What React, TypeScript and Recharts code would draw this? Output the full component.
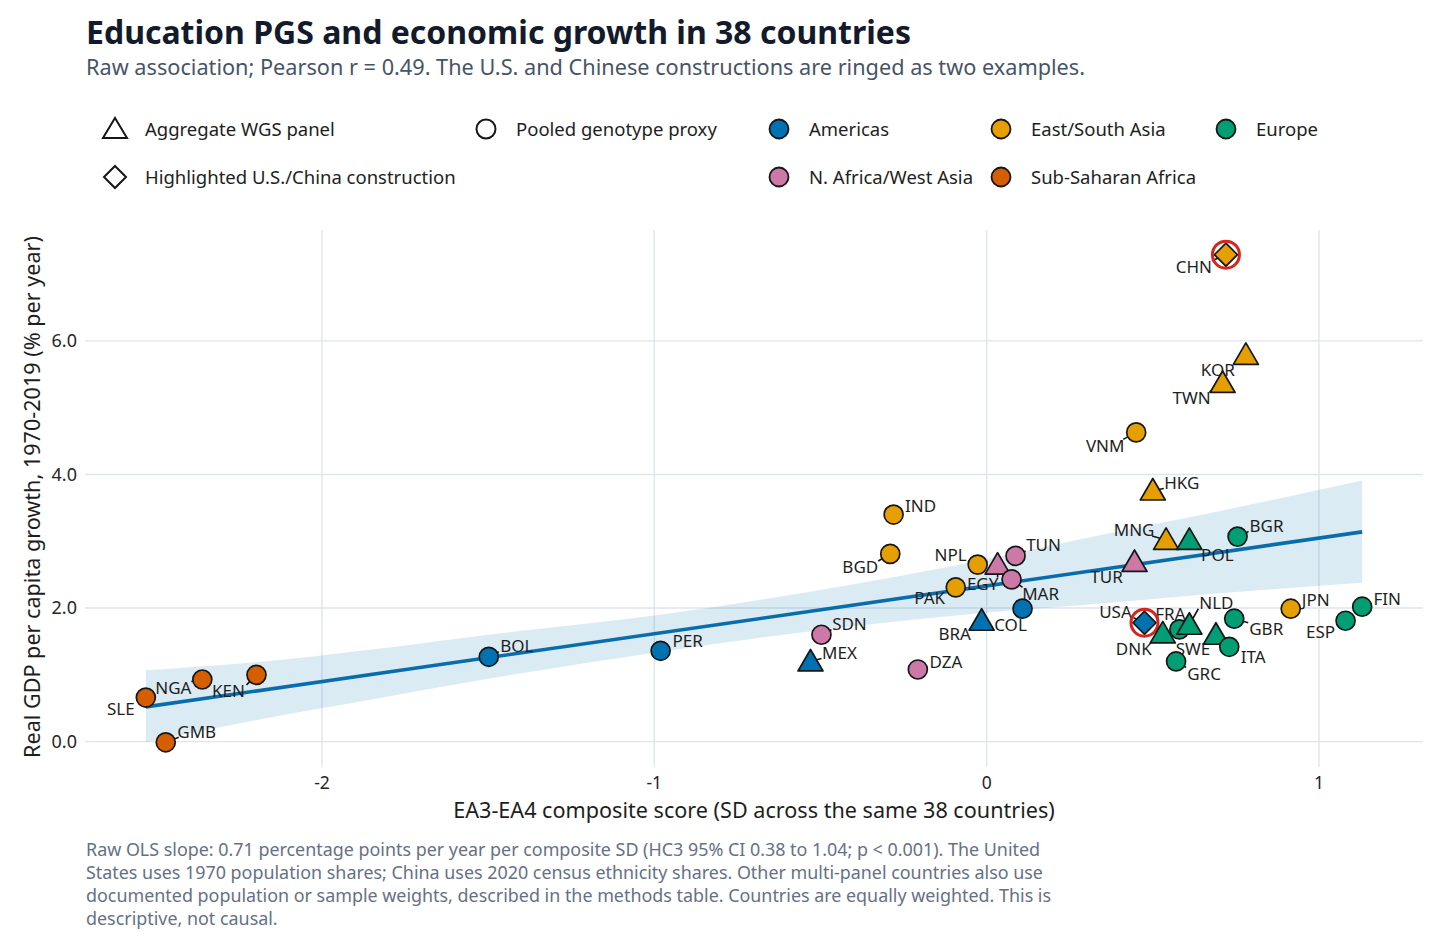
import React from "react";
import { Area, CartesianGrid, ComposedChart, Line, Scatter, XAxis, YAxis } from "recharts";

// country codes, EA3-EA4 composite score, growth 1970-2019, region, panel type
const CODES = [
  "CHN", "KOR", "TWN", "VNM", "HKG", "MNG", "POL", "BGR", "TUR", "USA",
  "FRA", "NLD", "DNK", "SWE", "GBR", "ITA", "GRC", "JPN", "ESP", "FIN",
  "IND", "BGD", "NPL", "EGY", "TUN", "MAR", "PAK", "COL", "BRA", "DZA",
  "SDN", "MEX", "PER", "BOL", "SLE", "NGA", "KEN", "GMB",
];
const SCORE = [
  0.72, 0.78, 0.71, 0.45, 0.5, 0.54, 0.61, 0.755, 0.445, 0.475,
  0.58, 0.61, 0.53, 0.69, 0.745, 0.73, 0.57, 0.915, 1.08, 1.13,
  -0.28, -0.29, -0.027, 0.033, 0.087, 0.075, -0.093, 0.108, -0.015, -0.207,
  -0.497, -0.53, -0.981, -1.498, -2.53, -2.36, -2.197, -2.47,
];
const GROWTH = [
  7.29, 5.79, 5.37, 4.63, 3.76, 3.02, 3.02, 3.07, 2.69, 1.78,
  1.68, 1.75, 1.62, 1.6, 1.84, 1.42, 1.2, 1.99, 1.81, 2.02,
  3.4, 2.81, 2.65, 2.65, 2.78, 2.43, 2.31, 1.99, 1.81, 1.08,
  1.6, 1.2, 1.36, 1.27, 0.66, 0.93, 1.0, -0.01,
];
const REGION = [
  "East/South Asia", "East/South Asia", "East/South Asia", "East/South Asia", "East/South Asia",
  "East/South Asia", "Europe", "Europe", "N. Africa/West Asia", "Americas",
  "Europe", "Europe", "Europe", "Europe", "Europe",
  "Europe", "Europe", "East/South Asia", "Europe", "Europe",
  "East/South Asia", "East/South Asia", "East/South Asia", "N. Africa/West Asia", "N. Africa/West Asia",
  "N. Africa/West Asia", "East/South Asia", "Americas", "Americas", "N. Africa/West Asia",
  "N. Africa/West Asia", "Americas", "Americas", "Americas", "Sub-Saharan Africa",
  "Sub-Saharan Africa", "Sub-Saharan Africa", "Sub-Saharan Africa",
];
const PANEL = [
  "highlight", "wgs", "wgs", "pooled", "wgs", "wgs", "wgs", "pooled", "wgs", "highlight",
  "pooled", "wgs", "wgs", "wgs", "pooled", "pooled", "pooled", "pooled", "pooled", "pooled",
  "pooled", "pooled", "pooled", "wgs", "pooled", "pooled", "pooled", "pooled", "wgs", "pooled",
  "pooled", "wgs", "pooled", "pooled", "pooled", "pooled", "pooled", "pooled",
];

// fitted OLS line and its 95% band
const FIT_X = [-2.53, 1.13];
const FIT_Y = [0.52, 3.14];
const BAND_X = [-2.53, -2.2, -1.83, -1.5, -1.0, -0.5, 0, 0.3, 0.7, 1.13];
const BAND_LO = [-0.01, 0.32, 0.65, 0.94, 1.33, 1.67, 1.93, 2.05, 2.22, 2.38];
const BAND_HI = [1.07, 1.19, 1.39, 1.6, 1.89, 2.27, 2.73, 3.05, 3.45, 3.91];

const X_TICKS = [-2, -1, 0, 1];
const Y_TICKS = [0, 2, 4, 6];
const X_DOMAIN: [number, number] = [-2.713, 1.313];
const Y_DOMAIN: [number, number] = [-0.38, 7.66];

const REGIONS = ["Americas", "East/South Asia", "Europe", "N. Africa/West Asia", "Sub-Saharan Africa"];
const REGION_COLORS: Record<string, string> = {
  Americas: "#0072B2",
  "East/South Asia": "#E69F00",
  Europe: "#009E73",
  "N. Africa/West Asia": "#CC79A7",
  "Sub-Saharan Africa": "#D55E00",
};

// label offsets in px (label centre relative to point)
const LABEL_NUDGE: Record<string, [number, number]> = {
  CHN: [-32, 12], KOR: [-28, 15], TWN: [-31, 15], VNM: [-31, 13], HKG: [29, -8],
  MNG: [-32, -10], POL: [28, 15], BGR: [29, -11], TUR: [-28, 15], USA: [-29, -11],
  FRA: [-9, -16], NLD: [27, -22], DNK: [-29, 15], SWE: [-23, 14], GBR: [32, 10],
  ITA: [24, 10], GRC: [28, 12], JPN: [25, -9], ESP: [-25, 11], FIN: [25, -8],
  IND: [27, -9], BGD: [-30, 13], NPL: [-27, -10], EGY: [-15, 19], TUN: [28, -11],
  MAR: [29, 14], PAK: [-26, 10], COL: [-12, 16], BRA: [-27, 13], DZA: [28, -8],
  SDN: [28, -11], MEX: [29, -9], PER: [27, -10], BOL: [28, -11], SLE: [-25, 11],
  NGA: [-29, 8], KEN: [-28, 16], GMB: [31, -11],
};

const points = CODES.map((code, i) => ({
  code,
  x: SCORE[i],
  y: GROWTH[i],
  region: REGION[i],
  panel: PANEL[i],
}));
const fitData = FIT_X.map((x, i) => ({ x, fit: FIT_Y[i] }));
const bandData = BAND_X.map((x, i) => ({ x, range: [BAND_LO[i], BAND_HI[i]] }));

const FONT = "'Noto Sans', sans-serif";
const INK = "#161616";

// grid lines only at the tick values (no frame around the panel)
function gridY(p: any) {
  const { top, height } = p.offset;
  return Y_TICKS.map((t) => top + height * (1 - (t - Y_DOMAIN[0]) / (Y_DOMAIN[1] - Y_DOMAIN[0])));
}
function gridX(p: any) {
  const { left, width } = p.offset;
  return X_TICKS.map((t) => left + (width * (t - X_DOMAIN[0])) / (X_DOMAIN[1] - X_DOMAIN[0]));
}

function Marker(props: any) {
  const { cx, cy, payload } = props;
  const fill = REGION_COLORS[payload.region];
  if (payload.panel === "wgs") {
    return (
      <polygon
        points={`${cx},${cy - 12} ${cx + 12.5},${cy + 9.5} ${cx - 12.5},${cy + 9.5}`}
        fill={fill}
        stroke={INK}
        strokeWidth={1.7}
        strokeLinejoin="round"
      />
    );
  }
  if (payload.panel === "highlight") {
    return (
      <g>
        <polygon
          points={`${cx},${cy - 11.5} ${cx + 11.5},${cy} ${cx},${cy + 11.5} ${cx - 11.5},${cy}`}
          fill={fill}
          stroke={INK}
          strokeWidth={1.7}
        />
        <circle cx={cx} cy={cy} r={13.5} fill="none" stroke="#d7261e" strokeWidth={3} />
      </g>
    );
  }
  return <circle cx={cx} cy={cy} r={9.5} fill={fill} stroke={INK} strokeWidth={1.7} />;
}

function PointLabel(props: any) {
  const { cx, cy, payload } = props;
  const [dx, dy] = LABEL_NUDGE[payload.code] ?? [26, -10];
  const ex = dx - Math.sign(dx) * Math.min(Math.abs(dx), 18);
  const ey = dy - Math.sign(dy) * Math.min(Math.abs(dy), 6);
  return (
    <g>
      <line x1={cx} y1={cy} x2={cx + ex} y2={cy + ey} stroke={INK} strokeWidth={1.6} />
      <text
        x={cx + dx}
        y={cy + dy}
        textAnchor="middle"
        dominantBaseline="central"
        fontSize={17}
        fill="#1e1e1e"
        fontFamily={FONT}
      >
        {payload.code}
      </text>
    </g>
  );
}

function LegendIcon({ kind, x, y, fill }: { kind: string; x: number; y: number; fill?: string }) {
  if (kind === "triangle") {
    return (
      <polygon
        points={`${x},${y - 11} ${x + 12},${y + 9} ${x - 12},${y + 9}`}
        fill="#fff"
        stroke={INK}
        strokeWidth={2}
        strokeLinejoin="miter"
      />
    );
  }
  if (kind === "diamond") {
    return (
      <polygon
        points={`${x},${y - 11} ${x + 11},${y} ${x},${y + 11} ${x - 11},${y}`}
        fill="#fff"
        stroke={INK}
        strokeWidth={2}
      />
    );
  }
  return <circle cx={x} cy={y} r={9.5} fill={fill ?? "#fff"} stroke={INK} strokeWidth={fill ? 1.8 : 2} />;
}

const FOOTNOTE = [
  "Raw OLS slope: 0.71 percentage points per year per composite SD (HC3 95% CI 0.38 to 1.04; p < 0.001). The United",
  "States uses 1970 population shares; China uses 2020 census ethnicity shares. Other multi-panel countries also use",
  "documented population or sample weights, described in the methods table. Countries are equally weighted. This is",
  "descriptive, not causal.",
];

const legendItems = [
  { kind: "triangle", label: "Aggregate WGS panel", x: 115, y: 129 },
  { kind: "circle", label: "Pooled genotype proxy", x: 486, y: 129 },
  { kind: "circle", label: REGIONS[0], x: 779, y: 129, fill: REGION_COLORS[REGIONS[0]] },
  { kind: "circle", label: REGIONS[1], x: 1001, y: 129, fill: REGION_COLORS[REGIONS[1]] },
  { kind: "circle", label: REGIONS[2], x: 1226, y: 129, fill: REGION_COLORS[REGIONS[2]] },
  { kind: "diamond", label: "Highlighted U.S./China construction", x: 115, y: 177 },
  { kind: "circle", label: REGIONS[3], x: 779, y: 177, fill: REGION_COLORS[REGIONS[3]] },
  { kind: "circle", label: REGIONS[4], x: 1001, y: 177, fill: REGION_COLORS[REGIONS[4]] },
];

export default function App() {
  return (
    <div
      style={{
        position: "absolute",
        left: 0,
        top: 0,
        width: 1456,
        height: 950,
        background: "#fff",
        fontFamily: FONT,
      }}
    >
      <svg width={1456} height={950} style={{ position: "absolute", left: 0, top: 0 }} fontFamily={FONT}>
        <text x={86} y={44} fontSize={32} fontWeight={700} fill="#121a2b">
          Education PGS and economic growth in 38 countries
        </text>
        <text x={86} y={75} fontSize={21.7} fill="#475467">
          Raw association; Pearson r = 0.49. The U.S. and Chinese constructions are ringed as two examples.
        </text>

        {legendItems.map((item) => (
          <g key={item.label}>
            <LegendIcon kind={item.kind} x={item.x} y={item.y} fill={item.fill} />
            <text x={item.x + 30} y={item.y + 6.5} fontSize={18.5} fill="#1e1e1e">
              {item.label}
            </text>
          </g>
        ))}

        <text
          x={40}
          y={497}
          fontSize={21.6}
          fill="#1e1e1e"
          textAnchor="middle"
          transform="rotate(-90 40 497)"
        >
          Real GDP per capita growth, 1970-2019 (% per year)
        </text>
        <text x={754} y={818} fontSize={21.6} fill="#1e1e1e" textAnchor="middle">
          EA3-EA4 composite score (SD across the same 38 countries)
        </text>

        {FOOTNOTE.map((line, i) => (
          <text key={i} x={86} y={856 + i * 23} fontSize={17.9} fill="#667085">
            {line}
          </text>
        ))}
      </svg>

      <div style={{ position: "absolute", left: 0, top: 0 }}>
        <ComposedChart
          width={1456}
          height={950}
          margin={{ top: 230, right: 33, bottom: 143, left: 25 }}
        >
          <CartesianGrid
            stroke="#dfe5ec"
            strokeWidth={1.4}
            horizontalCoordinatesGenerator={gridY}
            verticalCoordinatesGenerator={gridX}
          />
          <XAxis
            type="number"
            dataKey="x"
            domain={X_DOMAIN}
            ticks={X_TICKS}
            allowDataOverflow
            axisLine={false}
            tickLine={false}
            tickMargin={4}
            height={40}
            tick={{ fontSize: 17.5, fill: "#262626" }}
          />
          <YAxis
            type="number"
            domain={Y_DOMAIN}
            ticks={Y_TICKS}
            allowDataOverflow
            axisLine={false}
            tickLine={false}
            width={60}
            tickFormatter={(v: number) => v.toFixed(1)}
            tick={{ fontSize: 18, fill: "#262626" }}
          />
          <Area
            data={bandData}
            dataKey="range"
            type="monotone"
            stroke="none"
            fill="#0072B2"
            fillOpacity={0.14}
            isAnimationActive={false}
            activeDot={false}
          />
          <Line
            data={fitData}
            dataKey="fit"
            type="linear"
            stroke="#0a6dab"
            strokeWidth={3.6}
            dot={false}
            activeDot={false}
            isAnimationActive={false}
          />
          <Scatter data={points} dataKey="y" shape={PointLabel} isAnimationActive={false} />
          <Scatter data={points} dataKey="y" shape={Marker} isAnimationActive={false} />
        </ComposedChart>
      </div>
    </div>
  );
}
